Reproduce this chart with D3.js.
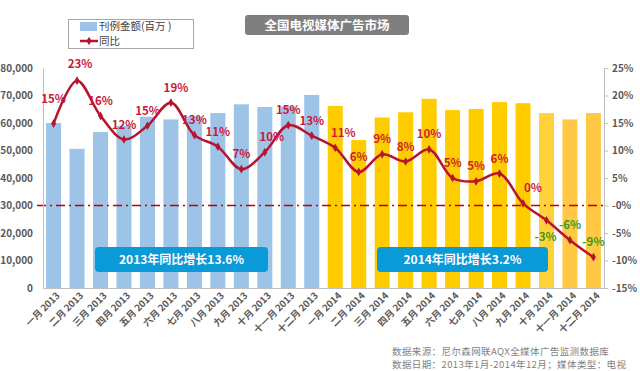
<!DOCTYPE html>
<html>
<head>
<meta charset="utf-8">
<script src="https://cdn.jsdelivr.net/npm/d3@7"></script>
<style>
  body { margin: 0; background: #fff; }
  svg text { font-family: "Noto Sans CJK SC", "Noto Sans", sans-serif; }
</style>
</head>
<body>
<svg id="chart" width="640" height="371"></svg>
<script>
// data
var months = ["一月 2013","二月 2013","三月 2013","四月 2013","五月 2013","六月 2013",
  "七月 2013","八月 2013","九月 2013","十月 2013","十一月 2013","十二月 2013",
  "一月 2014","二月 2014","三月 2014","四月 2014","五月 2014","六月 2014",
  "七月 2014","八月 2014","九月 2014","十月 2014","十一月 2014","十二月 2014"];
var amounts = [60000, 50600, 56700, 59000, 62300, 61300, 62400, 63600, 66800, 65800, 66000, 70200,
  66200, 53800, 62000, 63900, 68800, 64700, 65100, 67600, 67200, 63600, 61300, 63600];
var growth = [14.9, 22.7, 16.3, 12.0, 14.5, 18.7, 12.8, 10.7, 6.6, 9.7, 14.6, 12.7,
  10.5, 6.1, 9.3, 8.0, 10.2, 5.0, 4.4, 5.8, 0.4, -2.7, -6.3, -9.4];
var growthLabels = ["15%","23%","16%","12%","15%","19%","13%","11%","7%","10%","15%","13%",
  "11%","6%","9%","8%","10%","5%","5%","6%","0%","-3%","-6%","-9%"];
var leftTicks = [0, 10000, 20000, 30000, 40000, 50000, 60000, 70000, 80000];
var rightTicks = [-15, -10, -5, 0, 5, 10, 15, 20, 25];
var rightTickLabels = ["-15%","-10%","-5%","-0%","5%","10%","15%","20%","25%"];

var BAR_2013 = "#9DC3E6";
var LINE_COLOR = "#B8132F";
var AXIS_COLOR = "#BFBFBF";
var TICK_TEXT = "#595959";

var barColor = function(i) {
  if (i < 12) return BAR_2013;
  if (i < 21) return "#FFCC00";
  if (i == 21) return "#FFD23A";
  return "#FFC845";
};

// label nudges (layout only)
var labelDx = {1: 3, 5: 5, 9: 7, 12: 8, 20: 10, 21: -1};
var labelDy = {0: -21, 1: -13, 21: 21};

var svg = d3.select("#chart");

var x = d3.scaleBand().domain(months).range([43, 604]).paddingInner(0.36).paddingOuter(0.13);
var yL = d3.scaleLinear().domain([0, 80000]).range([288, 68]);
var yR = d3.scaleLinear().domain([-15, 25]).range([288, 68]);

// bars
svg.append("g").selectAll("rect")
  .data(amounts)
  .enter().append("rect")
  .attr("x", function(d, i) { return x(months[i]); })
  .attr("y", function(d) { return yL(d); })
  .attr("width", x.bandwidth())
  .attr("height", function(d) { return yL(0) - yL(d); })
  .attr("fill", function(d, i) { return barColor(i); });

// zero growth line
svg.append("line")
  .attr("x1", 37).attr("x2", 606)
  .attr("y1", yR(0)).attr("y2", yR(0))
  .attr("stroke", "#C00000")
  .attr("stroke-width", 1.6)
  .attr("stroke-dasharray", "9,4,2,4");

// left axis
var leftAxis = d3.axisLeft(yL).tickValues(leftTicks).tickSize(0).tickPadding(10)
  .tickFormat(d3.format(","));
var gl = svg.append("g").attr("transform", "translate(43,0)").call(leftAxis);
gl.select(".domain").attr("stroke", AXIS_COLOR);
gl.selectAll("text").attr("fill", TICK_TEXT).attr("font-size", 10).attr("font-weight", "bold")
  .attr("font-family", "'Noto Sans', sans-serif");

// right axis
var rightAxis = d3.axisRight(yR).tickValues(rightTicks).tickSize(4).tickPadding(4)
  .tickFormat(function(d, i) { return rightTickLabels[i]; });
var gr = svg.append("g").attr("transform", "translate(604,0)").call(rightAxis);
gr.select(".domain").attr("stroke", AXIS_COLOR);
gr.selectAll("line").attr("stroke", AXIS_COLOR);
gr.selectAll("text").attr("fill", TICK_TEXT).attr("font-size", 10).attr("font-weight", "bold")
  .attr("font-family", "'Noto Sans', sans-serif");

// bottom axis
var bottomAxis = d3.axisBottom(x).tickSize(0).tickPadding(6);
var gb = svg.append("g").attr("transform", "translate(0,288)").call(bottomAxis);
gb.select(".domain").attr("stroke", AXIS_COLOR);
gb.selectAll("text")
  .attr("fill", TICK_TEXT)
  .attr("font-size", 9.5)
  .attr("font-weight", "bold")
  .style("text-anchor", "end")
  .attr("dx", "-0.1em")
  .attr("dy", "0.5em")
  .attr("transform", "rotate(-45)");

// growth line
var line = d3.line()
  .x(function(d, i) { return x(months[i]) + x.bandwidth() / 2; })
  .y(function(d) { return yR(d); })
  .curve(d3.curveCatmullRom.alpha(0.5));

svg.append("path")
  .datum(growth)
  .attr("d", line)
  .attr("fill", "none")
  .attr("stroke", LINE_COLOR)
  .attr("stroke-width", 2.5);

svg.append("g").selectAll("path")
  .data(growth)
  .enter().append("path")
  .attr("d", d3.symbol().type(d3.symbolDiamond).size(22))
  .attr("transform", function(d, i) {
    return "translate(" + (x(months[i]) + x.bandwidth() / 2) + "," + yR(d) + ")";
  })
  .attr("fill", LINE_COLOR);

// value labels
svg.append("g").selectAll("text")
  .data(growth)
  .enter().append("text")
  .attr("x", function(d, i) { return x(months[i]) + x.bandwidth() / 2 + (labelDx[i] || 0); })
  .attr("y", function(d, i) { return yR(d) + (labelDy[i] || -11); })
  .attr("text-anchor", "middle")
  .attr("font-size", 11.5)
  .attr("font-weight", "bold")
  .attr("font-family", "'Noto Sans', sans-serif")
  .attr("fill", function(d, i) { return d < -1 ? "#3A9A22" : (i < 12 ? "#C8163C" : "#CC1F2E"); })
  .text(function(d, i) { return growthLabels[i]; });

// callout boxes
var callouts = [
  {text: "2013年同比增长13.6%", x: 95, w: 173},
  {text: "2014年同比增长3.2%", x: 377, w: 171}
];
callouts.forEach(function(c) {
  svg.append("rect")
    .attr("x", c.x).attr("y", 247).attr("width", c.w).attr("height", 25)
    .attr("rx", 4).attr("fill", "#0A9AD7");
  svg.append("text")
    .attr("x", c.x + c.w / 2).attr("y", 264)
    .attr("text-anchor", "middle")
    .attr("fill", "#fff")
    .attr("font-size", 12)
    .attr("font-weight", "bold")
    .text(c.text);
});

// title
svg.append("rect")
  .attr("x", 245).attr("y", 15).attr("width", 164).attr("height", 20)
  .attr("rx", 3).attr("fill", "#7F7F7F");
svg.append("text")
  .attr("x", 327).attr("y", 30)
  .attr("text-anchor", "middle")
  .attr("fill", "#fff")
  .attr("font-size", 12.5)
  .attr("font-weight", "bold")
  .text("全国电视媒体广告市场");

// legend
var legend = svg.append("g");
legend.append("rect")
  .attr("x", 68.5).attr("y", 19.5).attr("width", 125).attr("height", 29)
  .attr("fill", "#fff").attr("stroke", "#A6A6A6");
legend.append("rect")
  .attr("x", 80).attr("y", 22).attr("width", 17).attr("height", 9)
  .attr("fill", BAR_2013);
legend.append("text")
  .attr("x", 99).attr("y", 30)
  .attr("font-size", 10.5).attr("fill", "#404040")
  .text("刊例金额(百万 )");
legend.append("line")
  .attr("x1", 80).attr("x2", 98).attr("y1", 41).attr("y2", 41)
  .attr("stroke", LINE_COLOR).attr("stroke-width", 2.5);
legend.append("path")
  .attr("d", d3.symbol().type(d3.symbolDiamond).size(22))
  .attr("transform", "translate(89,41)")
  .attr("fill", LINE_COLOR);
legend.append("text")
  .attr("x", 99).attr("y", 45)
  .attr("font-size", 10.5).attr("fill", "#404040")
  .text("同比");

// footer
svg.append("text")
  .attr("x", 392).attr("y", 355)
  .attr("font-size", 9.5).attr("letter-spacing", 0.4).attr("fill", "#7F7F7F")
  .text("数据来源：尼尔森网联AQX全媒体广告监测数据库");
svg.append("text")
  .attr("x", 392).attr("y", 368)
  .attr("font-size", 9.5).attr("letter-spacing", 0.4).attr("fill", "#7F7F7F")
  .text("数据日期：2013年1月-2014年12月；媒体类型：电视");
</script>
</body>
</html>
